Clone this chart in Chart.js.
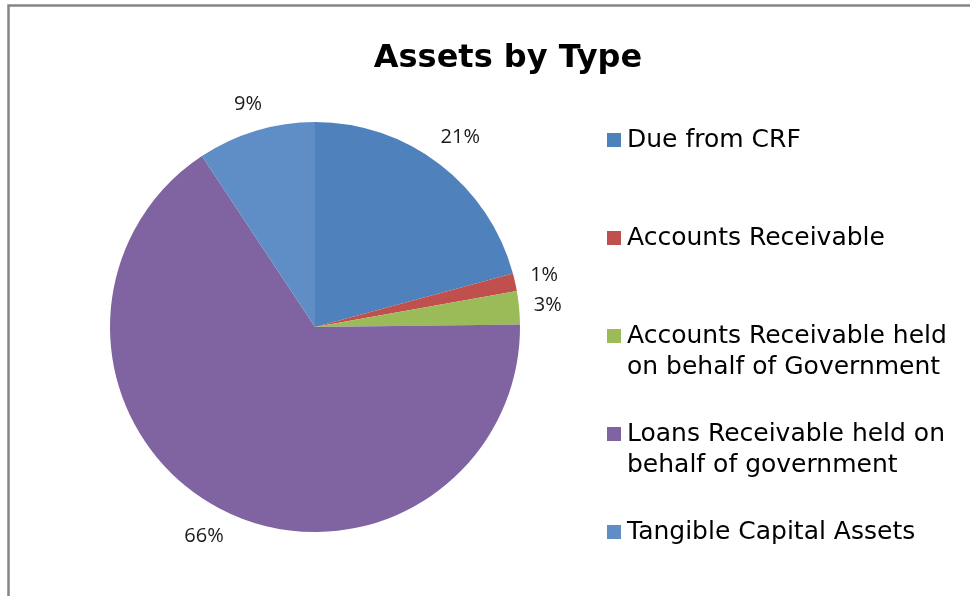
<!DOCTYPE html>
<html>
<head>
<meta charset="utf-8">
<title>Assets by Type</title>
<script src="https://cdn.jsdelivr.net/npm/chart.js@4.4.1/dist/chart.umd.min.js"></script>
<style>
  html, body { margin: 0; padding: 0; background: #fff; }
  #assetsChart { display: block; }
</style>
</head>
<body>
<canvas id="assetsChart" width="970" height="596"></canvas>
<script>
    const chartTitle = 'Assets by Type';
    const categories = [
        'Due from CRF',
        'Accounts Receivable',
        'Accounts Receivable held on behalf of Government',
        'Loans Receivable held on behalf of government',
        'Tangible Capital Assets'
    ];
    const shares = [20.8, 1.4, 2.6, 65.9, 9.3]; // in %
    const sliceColors = ['#4f81bd', '#c0504d', '#9bbb59', '#8064a2', '#5f8ec7'];

    // frame, title, legend and percent labels drawn by hand (Excel look)
    const excelLook = {
        id: 'excelLook',
        beforeDraw(chart) {
            const ctx = chart.ctx;
            ctx.save();
            ctx.fillStyle = '#fff';
            ctx.fillRect(0, 0, chart.width, chart.height);
            ctx.strokeStyle = '#858585';
            ctx.lineWidth = 2.5;
            ctx.beginPath();
            ctx.moveTo(8.5, chart.height);
            ctx.lineTo(8.5, 5.5);
            ctx.lineTo(chart.width, 5.5);
            ctx.stroke();
            ctx.restore();
        },
        afterDatasetsDraw(chart) {
            const ctx = chart.ctx;
            const meta = chart.getDatasetMeta(0);
            const values = chart.data.datasets[0].data;
            const total = values.reduce((a, b) => a + b, 0);

            ctx.save();
            // title
            ctx.fillStyle = '#000';
            ctx.font = 'bold 32px "DejaVu Sans"';
            ctx.textAlign = 'center';
            ctx.textBaseline = 'middle';
            ctx.fillText(chartTitle, 508, 59);

            // percent labels outside each slice
            ctx.font = '20px "Open Sans"';
            ctx.fillStyle = '#1a1a1a';
            meta.data.forEach((arc, i) => {
                const p = arc.getProps(['x', 'y', 'startAngle', 'endAngle', 'outerRadius'], true);
                const mid = (p.startAngle + p.endAngle) / 2;
                const txt = Math.round(values[i] / total * 100) + '%';
                const w = ctx.measureText(txt).width;
                const h = 20;
                const reach = Math.abs(Math.cos(mid)) * w / 2 + Math.abs(Math.sin(mid)) * h / 2;
                const d = p.outerRadius + 14 + reach;
                ctx.fillText(txt, p.x + Math.cos(mid) * d, p.y + Math.sin(mid) * d);
            });

            // legend on the right
            ctx.font = '25px "DejaVu Sans"';
            ctx.textAlign = 'left';
            const maxW = 340;
            chart.data.labels.forEach((label, i) => {
                const lines = [];
                let cur = '';
                label.split(' ').forEach(word => {
                    const test = cur ? cur + ' ' + word : word;
                    if (cur && ctx.measureText(test).width > maxW) {
                        lines.push(cur);
                        cur = word;
                    } else {
                        cur = test;
                    }
                });
                lines.push(cur);
                const y0 = 140 + i * 98;
                ctx.fillStyle = sliceColors[i];
                ctx.fillRect(607, y0 - 7, 14, 14);
                ctx.fillStyle = '#000';
                lines.forEach((ln, k) => ctx.fillText(ln, 627, y0 + k * 31));
            });
            ctx.restore();
        }
    };

    new Chart(document.getElementById('assetsChart'), {
        type: 'pie',
        data: {
            labels: categories,
            datasets: [{
                data: shares,
                backgroundColor: sliceColors,
                borderWidth: 0
            }]
        },
        options: {
            responsive: false,
            animation: false,
            layout: {
                padding: { top: 122, bottom: 64, left: 110, right: 450 }
            },
            plugins: {
                legend: { display: false },
                title: { display: false },
                tooltip: { enabled: false }
            }
        },
        plugins: [excelLook]
    });
</script>
</body>
</html>
